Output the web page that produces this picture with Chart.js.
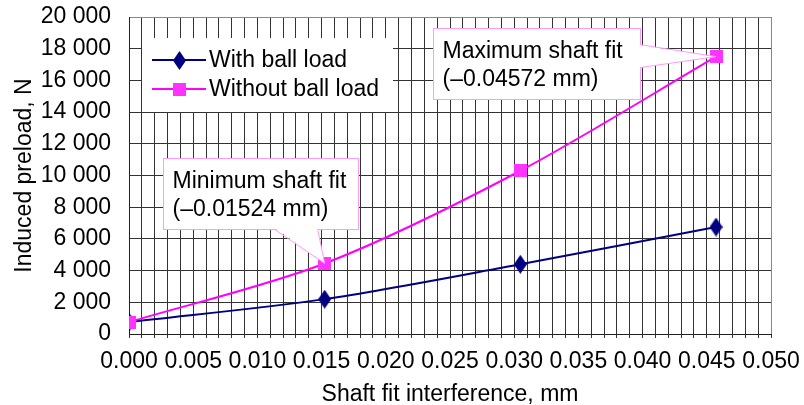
<!DOCTYPE html>
<html>
<head>
<meta charset="utf-8">
<script src="https://cdn.jsdelivr.net/npm/chart.js@4.4.1/dist/chart.umd.min.js"></script>
<style>
    html, body { margin: 0; padding: 0; background: #fff; }
    #wrap { width: 804px; height: 405px; }
</style>
</head>
<body>
<div id="wrap"><canvas id="preload_chart"></canvas></div>
<script>
// data
const shaftFit = [0, 0.01524, 0.03048, 0.04572];
const withBallLoad = [750, 2200, 4400, 6750];
const withoutBallLoad = [750, 4450, 10300, 17500];
const seriesLabels = ["With ball load", "Without ball load"];
const xTitle = "Shaft fit interference, mm";
const yTitle = "Induced preload, N";
const calloutTexts = [
    ["Minimum shaft fit", "(–0.01524 mm)"],
    ["Maximum shaft fit", "(–0.04572 mm)"],
];
const calloutPoints = [1, 3]; // which "without ball load" point each callout points to

const FONT = "'Liberation Sans', Arial, sans-serif";
const FONT_SIZE = 23;
const NAVY = "#000080";
const MAGENTA = "#ff00ff";
const GRID = "#333";

function makeMarker(w, h, draw) {
    const c = document.createElement("canvas");
    c.width = w;
    c.height = h;
    draw(c.getContext("2d"), w, h);
    return c;
}

const diamond = makeMarker(13, 19, function (ctx, w, h) {
    ctx.fillStyle = NAVY;
    ctx.beginPath();
    ctx.moveTo(w / 2, 0);
    ctx.lineTo(w, h / 2);
    ctx.lineTo(w / 2, h);
    ctx.lineTo(0, h / 2);
    ctx.closePath();
    ctx.fill();
});
const square = makeMarker(13, 13, function (ctx, w, h) {
    ctx.fillStyle = "#ff33ff";
    ctx.fillRect(0, 0, w, h);
});

function pairs(ys) {
    return shaftFit.map((x, i) => ({ x: x, y: ys[i] }));
}

function thousands(v) {
    return String(v).replace(/\B(?=(\d{3})+(?!\d))/g, " ");
}

// legend drawn as a white box inside the plot
const boxLegend = {
    id: "boxLegend",
    afterDatasetsDraw(chart) {
        const ctx = chart.ctx;
        const area = chart.chartArea;
        const left = area.left + 13;
        const top = area.top + 21;
        ctx.save();
        ctx.fillStyle = "#fff";
        ctx.fillRect(left, top, 251, 74);
        ctx.font = FONT_SIZE + "px " + FONT;
        ctx.textBaseline = "middle";
        chart.data.datasets.forEach(function (ds, i) {
            const y = top + 22 + i * 29;
            ctx.strokeStyle = ds.borderColor;
            ctx.lineWidth = 2;
            ctx.beginPath();
            ctx.moveTo(left + 10, y);
            ctx.lineTo(left + 64, y);
            ctx.stroke();
            const m = ds.pointStyle;
            ctx.drawImage(m, Math.round(left + 37 - m.width / 2), Math.round(y - m.height / 2));
            ctx.fillStyle = "#000";
            ctx.fillText(ds.label, left + 67, y + 1);
        });
        ctx.restore();
    },
};

// callout boxes: box offset from the point, and the two base corners of the pointer
const calloutLayout = [
    { box: [-162, -105, 195, 71], base: [[-50, -34], [-7, -34]] },
    { box: [-283, -29, 207, 71], base: [[-76, -12], [-76, 11]] },
];

const callouts = {
    id: "callouts",
    afterDatasetsDraw(chart) {
        const ctx = chart.ctx;
        const meta = chart.getDatasetMeta(1);
        ctx.save();
        calloutTexts.forEach(function (lines, i) {
            const pt = meta.data[calloutPoints[i]];
            const tx = pt.x, ty = pt.y;
            const lay = calloutLayout[i];
            const bx = Math.round(tx + lay.box[0]) + 0.5;
            const by = Math.round(ty + lay.box[1]) + 0.5;
            const bw = lay.box[2], bh = lay.box[3];
            ctx.fillStyle = "#fff";
            ctx.strokeStyle = "#ff99ff";
            ctx.lineWidth = 1;
            ctx.fillRect(bx, by, bw, bh);
            ctx.strokeRect(bx, by, bw, bh);
            const b1 = [tx + lay.base[0][0], ty + lay.base[0][1]];
            const b2 = [tx + lay.base[1][0], ty + lay.base[1][1]];
            // white wedge, overlapping the box edge so it merges
            const inset = i === 0 ? [0, -1.5] : [-1.5, 0];
            ctx.beginPath();
            ctx.moveTo(b1[0] + inset[0], b1[1] + inset[1]);
            ctx.lineTo(tx, ty);
            ctx.lineTo(b2[0] + inset[0], b2[1] + inset[1]);
            ctx.closePath();
            ctx.fill();
            ctx.beginPath();
            ctx.moveTo(b1[0], b1[1]);
            ctx.lineTo(tx, ty);
            ctx.lineTo(b2[0], b2[1]);
            ctx.stroke();
            ctx.fillStyle = "#000";
            ctx.font = FONT_SIZE + "px " + FONT;
            ctx.textBaseline = "alphabetic";
            lines.forEach(function (t, k) {
                ctx.fillText(t, bx + 9, by + 29 + k * 28);
            });
        });
        ctx.restore();
    },
};

new Chart(document.getElementById("preload_chart"), {
    type: "line",
    data: {
        datasets: [
            {
                label: seriesLabels[0],
                data: pairs(withBallLoad),
                borderColor: NAVY,
                borderWidth: 2,
                pointStyle: diamond,
                tension: 0.3,
                order: 1,
            },
            {
                label: seriesLabels[1],
                data: pairs(withoutBallLoad),
                borderColor: MAGENTA,
                borderWidth: 2,
                pointStyle: square,
                tension: 0.3,
                order: 0,
            },
        ],
    },
    options: {
        responsive: true,
        maintainAspectRatio: false,
        animation: false,
        layout: { padding: { left: 0, top: 17, right: 33, bottom: 0 } },
        plugins: {
            legend: { display: false },
            tooltip: { enabled: false },
        },
        scales: {
            x: {
                type: "linear",
                min: 0,
                max: 0.05,
                afterFit(scale) {
                    scale.height = 71;
                    scale.paddingLeft = 0;
                    scale.paddingRight = 0;
                },
                border: { color: "#222" },
                grid: {
                    color: (c) => (c.tick && Math.round(c.tick.value * 1000) === 50 ? "#888" : GRID),
                    tickLength: 4,
                    tickColor: GRID,
                },
                ticks: {
                    stepSize: 0.001,
                    autoSkip: false,
                    maxRotation: 0,
                    minRotation: 0,
                    padding: 10,
                    color: "#000",
                    font: { family: FONT, size: FONT_SIZE },
                    callback: function (v) {
                        const k = Math.round(v * 1000);
                        return k % 5 === 0 ? (k / 1000).toFixed(3) : "";
                    },
                },
                title: {
                    display: true,
                    text: xTitle,
                    color: "#000",
                    font: { family: FONT, size: FONT_SIZE },
                    padding: { top: 0, bottom: -3 },
                },
            },
            y: {
                min: 0,
                max: 20000,
                afterFit(scale) {
                    scale.width = 129;
                    scale.paddingTop = 0;
                    scale.paddingBottom = 0;
                },
                border: { color: "#222" },
                grid: {
                    color: (c) => (c.tick && c.tick.value === 20000 ? "#888" : GRID),
                    drawTicks: false,
                },
                ticks: {
                    stepSize: 2000,
                    autoSkip: false,
                    padding: 18,
                    color: "#000",
                    font: { family: FONT, size: FONT_SIZE },
                    callback: thousands,
                },
                title: {
                    display: true,
                    text: yTitle,
                    color: "#000",
                    font: { family: FONT, size: FONT_SIZE },
                    padding: { top: 11, bottom: 0 },
                },
            },
        },
    },
    plugins: [boxLegend, callouts],
});
</script>
</body>
</html>
